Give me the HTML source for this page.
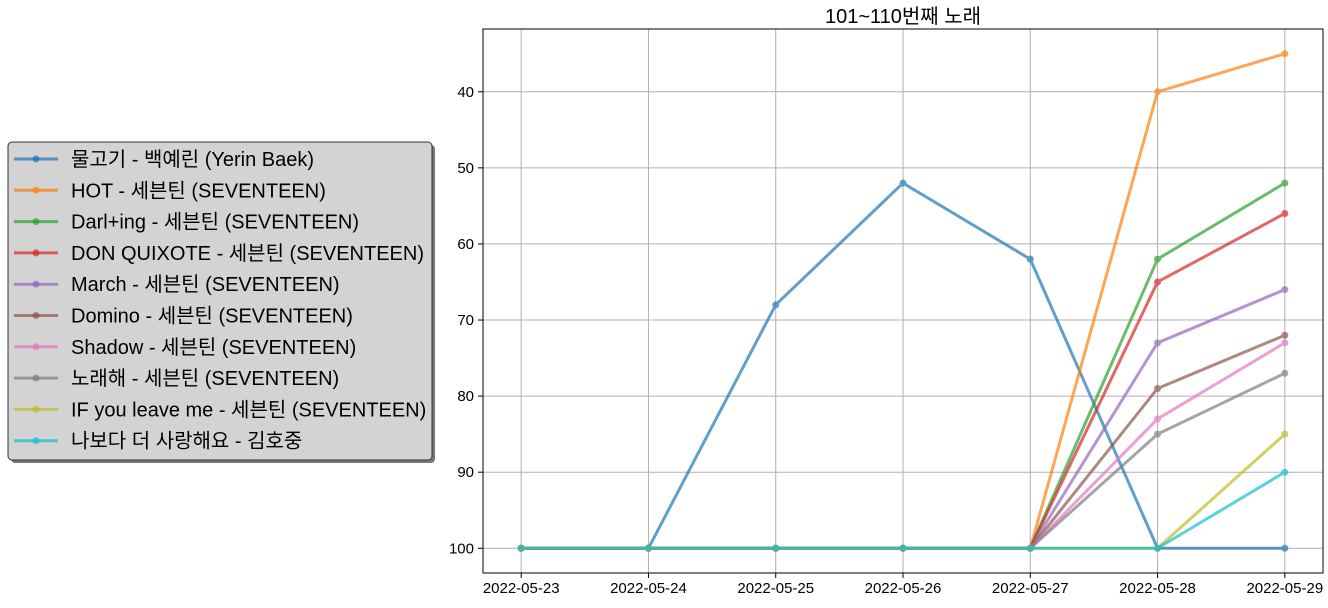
<!DOCTYPE html>
<html><head><meta charset="utf-8"><style>
body{margin:0;background:#fff;width:1328px;height:603px;overflow:hidden}
svg{font-family:"Liberation Sans","Noto Sans CJK KR",sans-serif}
</style></head><body>
<svg id="c" width="1328" height="603"></svg>
<script>
const categories=["2022-05-23","2022-05-24","2022-05-25","2022-05-26","2022-05-27","2022-05-28","2022-05-29"];
const seriesNames=["물고기 - 백예린 (Yerin Baek)","HOT - 세븐틴 (SEVENTEEN)","Darl+ing - 세븐틴 (SEVENTEEN)","DON QUIXOTE - 세븐틴 (SEVENTEEN)","March - 세븐틴 (SEVENTEEN)","Domino - 세븐틴 (SEVENTEEN)","Shadow - 세븐틴 (SEVENTEEN)","노래해 - 세븐틴 (SEVENTEEN)","IF you leave me - 세븐틴 (SEVENTEEN)","나보다 더 사랑해요 - 김호중"];
const s0=[100,100,68,52,62,100,100];
const s1=[100,100,100,100,100,40,35];
const s2=[100,100,100,100,100,62,52];
const s3=[100,100,100,100,100,65,56];
const s4=[100,100,100,100,100,73,66];
const s5=[100,100,100,100,100,79,72];
const s6=[100,100,100,100,100,83,73];
const s7=[100,100,100,100,100,85,77];
const s8=[100,100,100,100,100,100,85];
const s9=[100,100,100,100,100,100,90];
const seriesValues=[s0,s1,s2,s3,s4,s5,s6,s7,s8,s9];
const yTicks=[40,50,60,70,80,90,100];
const colors=["#1f77b4","#ff7f0e","#2ca02c","#d62728","#9467bd","#8c564b","#e377c2","#7f7f7f","#bcbd22","#17becf"];
const svg=document.getElementById('c');const NS="http://www.w3.org/2000/svg";
function el(t,a,p){const e=document.createElementNS(NS,t);for(const k in a)e.setAttribute(k,a[k]);(p||svg).appendChild(e);return e;}
const L=483,R=1323,T=29,B=573;
const allV=seriesValues.flat();const vmin=Math.min(...allV),vmax=Math.max(...allV),pad=(vmax-vmin)*0.05;
const y0=vmin-pad,y1=vmax+pad;
const y=v=>T+(v-y0)/(y1-y0)*(B-T);
const n=categories.length;const x=i=>L+(i+0.3)/(n-1+0.6)*(R-L);
categories.forEach((c,i)=>{
 let g=el('line',{x1:x(i),x2:x(i),y1:T,y2:B,stroke:'#b0b0b0','stroke-width':1});
 
 el('line',{x1:x(i),x2:x(i),y1:B,y2:B+5,stroke:'#000'});
 let t=el('text',{x:x(i),y:B+20,'text-anchor':'middle','font-size':15});t.textContent=c;
 
});
yTicks.forEach(v=>{
 let g=el('line',{x1:L,x2:R,y1:y(v),y2:y(v),stroke:'#b0b0b0','stroke-width':1});
 
 el('line',{x1:L-5,x2:L,y1:y(v),y2:y(v),stroke:'#000'});
 let t=el('text',{x:L-9,y:y(v)+5,'text-anchor':'end','font-size':15});t.textContent=v;
 
});
seriesValues.forEach((s,k)=>{
 const g=el('g',{opacity:0.7});
 
 el('polyline',{points:s.map((v,i)=>x(i)+','+y(v)).join(' '),fill:'none',stroke:colors[k],'stroke-width':3},g);
 s.forEach((v,i)=>{const c=el('circle',{cx:x(i),cy:y(v),r:3.5,fill:colors[k]},g);
  });
});
let fr=el('rect',{x:L,y:T,width:R-L,height:B-T,fill:'none',stroke:'#000','stroke-width':1});

let ti=el('text',{x:(L+R)/2,y:23,'text-anchor':'middle','font-size':20});ti.textContent="101~110번째 노래";

const lg=el('g',{});
el('rect',{x:11,y:145,width:424,height:318,rx:4,fill:'#777'},lg);
el('rect',{x:8,y:142,width:424,height:318,rx:4,fill:'#d3d3d3',stroke:'#333','stroke-width':1},lg);
seriesNames.forEach((nm,k)=>{
 const yy=159+k*31.3;
 const e=el('g',{},lg);
 el('line',{x1:14,x2:58,y1:yy,y2:yy,stroke:colors[k],'stroke-width':3,opacity:0.7},e);
 el('circle',{cx:36,cy:yy,r:3.5,fill:colors[k],opacity:0.7},e);
 const t=el('text',{x:71,y:yy+7,'font-size':20},e);t.textContent=nm;
});
</script></body></html>
